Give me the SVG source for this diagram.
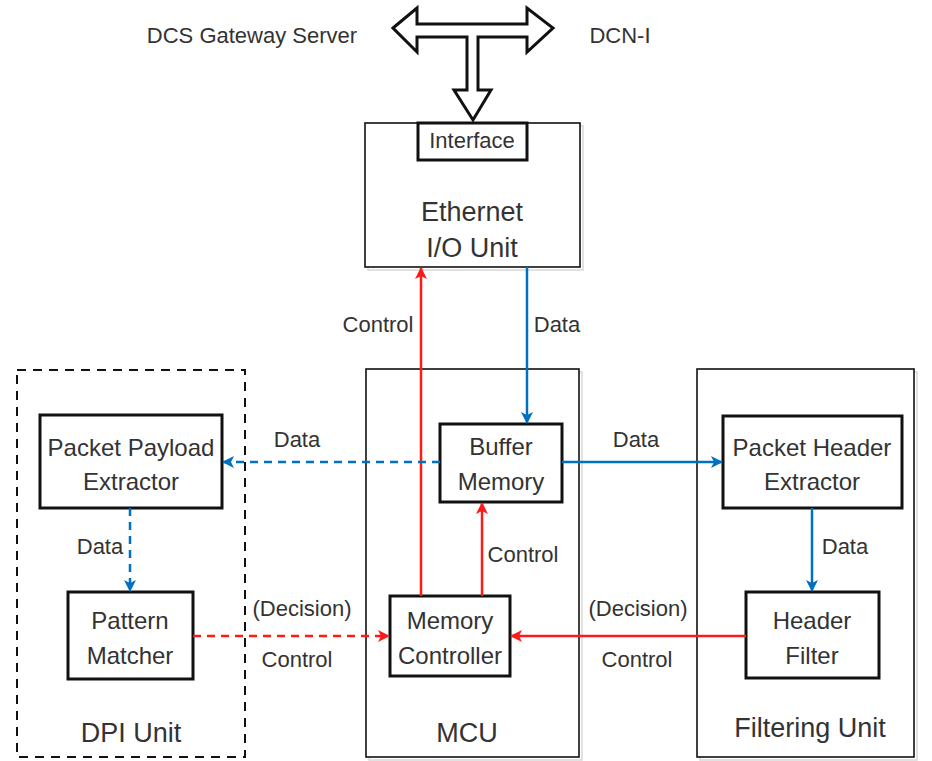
<svg xmlns="http://www.w3.org/2000/svg" width="932" height="761" viewBox="0 0 932 761">
<defs>
<style>
text{font-family:"Liberation Sans",Arial,sans-serif;fill:#333;text-anchor:middle}
.t24{font-size:24px}
.t22{font-size:22px}
.t26{font-size:27px}
.outer{fill:#fff;stroke:#111;stroke-width:1.6}
.inner{fill:#fff;stroke:#111;stroke-width:3}
.shadow{fill:none;stroke:#d8d8d8;stroke-width:1.5}
.blue{stroke:#0070C0;stroke-width:2.5;fill:none}
.red{stroke:#FF1A1A;stroke-width:2.5;fill:none}
.dash{stroke-dasharray:8,6}
</style>
<marker id="ab" viewBox="0 0 12 12" refX="11" refY="6" markerWidth="12" markerHeight="12" markerUnits="userSpaceOnUse" orient="auto">
<path d="M0,0 L12,6 L0,12 L3,6 Z" fill="#0070C0"/>
</marker>
<marker id="ar" viewBox="0 0 12 12" refX="11" refY="6" markerWidth="12" markerHeight="12" markerUnits="userSpaceOnUse" orient="auto">
<path d="M0,0 L12,6 L0,12 L3,6 Z" fill="#FF1A1A"/>
</marker>
</defs>
<rect width="932" height="761" fill="#fff"/>

<g id="io-arrow">
<polygon points="393,28 417,8 417,24 527,24 527,8 553,28 527,52 527,37 478,37 478,90 491,90 473,120 454,90 467,90 467,37 417,37 417,52" fill="#fff" stroke="#111" stroke-width="3" stroke-linejoin="miter"/>
</g>
<g id="labels-top">
<text class="t22" x="252" y="43">DCS Gateway Server</text>
<text class="t22" x="620" y="43">DCN-I</text>
</g>

<g id="ethernet">
<rect class="shadow" x="368" y="126" width="215" height="144"/>
<rect class="outer" x="365" y="123" width="215" height="144"/>
<text class="t26" x="472" y="221">Ethernet</text>
<text class="t26" x="472" y="257">I/O Unit</text>
</g>
<g id="interface">
<rect class="inner" x="418" y="123" width="109" height="37"/>
<text class="t22" x="472" y="148">Interface</text>
</g>

<g id="dpi-unit">
<rect x="17" y="370" width="228" height="387" fill="none" stroke="#111" stroke-width="2" stroke-dasharray="9,7"/>
<text class="t26" x="131" y="742">DPI Unit</text>
</g>
<g id="mcu">
<rect class="shadow" x="369" y="372" width="213" height="388"/>
<rect class="outer" x="366" y="369" width="213" height="388"/>
<text class="t26" x="467" y="742">MCU</text>
</g>
<g id="filtering-unit">
<rect class="shadow" x="700" y="372" width="217" height="388"/>
<rect class="outer" x="697" y="369" width="217" height="388"/>
<text class="t26" x="810" y="737">Filtering Unit</text>
</g>

<g id="payload-extractor">
<rect class="inner" x="40" y="415" width="182" height="93"/>
<text class="t24" x="131" y="456">Packet Payload</text>
<text class="t24" x="131" y="490">Extractor</text>
</g>
<g id="pattern-matcher">
<rect class="inner" x="68" y="592" width="125" height="87"/>
<text class="t24" x="130" y="629">Pattern</text>
<text class="t24" x="130" y="664">Matcher</text>
</g>
<g id="buffer-memory">
<rect class="inner" x="440" y="424" width="122" height="78"/>
<text class="t24" x="501" y="455">Buffer</text>
<text class="t24" x="501" y="490">Memory</text>
</g>
<g id="memory-controller">
<rect class="inner" x="390" y="596" width="120" height="80"/>
<text class="t24" x="450" y="629">Memory</text>
<text class="t24" x="450" y="664">Controller</text>
</g>
<g id="header-extractor">
<rect class="inner" x="723" y="416" width="179" height="92"/>
<text class="t24" x="812" y="456">Packet Header</text>
<text class="t24" x="812" y="490">Extractor</text>
</g>
<g id="header-filter">
<rect class="inner" x="746" y="592" width="133" height="86"/>
<text class="t24" x="812" y="629">Header</text>
<text class="t24" x="812" y="664">Filter</text>
</g>

<g id="connectors">
<line class="red" x1="421" y1="596" x2="421" y2="268" marker-end="url(#ar)"/>
<line class="blue" x1="527" y1="267" x2="527" y2="423" marker-end="url(#ab)"/>
<line class="blue dash" x1="440" y1="462" x2="223" y2="462" marker-end="url(#ab)"/>
<line class="blue" x1="562" y1="462" x2="722" y2="462" marker-end="url(#ab)"/>
<line class="red" x1="482" y1="596" x2="482" y2="503" marker-end="url(#ar)"/>
<line class="blue dash" x1="130" y1="508" x2="130" y2="591" marker-end="url(#ab)"/>
<line class="blue" x1="812" y1="508" x2="812" y2="591" marker-end="url(#ab)"/>
<line class="red dash" x1="193" y1="636" x2="389" y2="636" marker-end="url(#ar)"/>
<line class="red" x1="746" y1="636" x2="511" y2="636" marker-end="url(#ar)"/>
</g>

<g id="connector-labels">
<text class="t22" x="378" y="332">Control</text>
<text class="t22" x="557" y="332">Data</text>
<text class="t22" x="297" y="447">Data</text>
<text class="t22" x="636" y="447">Data</text>
<text class="t22" x="100" y="554">Data</text>
<text class="t22" x="523" y="562">Control</text>
<text class="t22" x="845" y="554">Data</text>
<text class="t22" x="302" y="616">(Decision)</text>
<text class="t22" x="297" y="667">Control</text>
<text class="t22" x="638" y="616">(Decision)</text>
<text class="t22" x="637" y="667">Control</text>
</g>
</svg>
